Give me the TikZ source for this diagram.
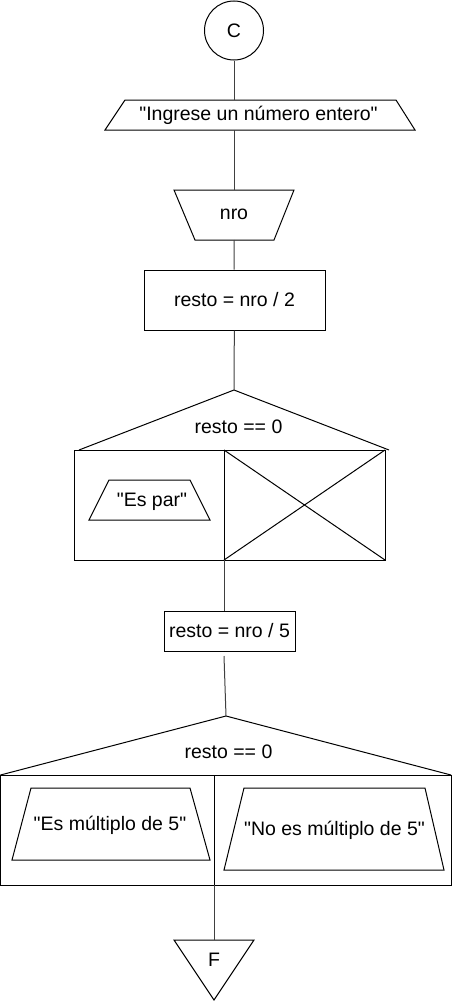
\documentclass[tikz,border=0pt]{standalone}
\usepackage{fontspec}
\newfontfamily\arial{Liberation Sans}
\begin{document}
\begin{tikzpicture}
  [x=1pt, y=-1pt, line width=1pt,
   txt/.style = {font=\arial\fontsize{19.5}{23}\selectfont, inner sep=0pt},
   caja/.style = {draw, txt},
   link/.style = {draw=black!75}]
  \useasboundingbox (0,0) rectangle (452,1001);
  % Inicio
  \node[caja, circle, minimum size=59pt] (C) at (234,30.5) {C};
  % Mensaje de entrada
  \draw (125,100) -- (396,100) -- (415,130) -- (105,130) -- cycle;
  \node[txt] (msg) at (258.5,115) {"Ingrese un número entero"};
  \coordinate (msgT) at (234,100);
  \coordinate (msgB) at (234,130);
  % Lectura
  \draw (174,190) -- (294,190) -- (274,240) -- (195,240) -- cycle;
  \node[txt] (nro) at (234,214) {nro};
  \coordinate (nroT) at (234,190);
  \coordinate (nroB) at (234,240);
  % Primer resto
  \node[caja, minimum width=181pt, minimum height=60pt] (r2) at (234.5,300) {resto = nro / 2};
  % Primera condicion
  \coordinate (ap1) at (234,390);
  \draw (79,450) -- (ap1) -- (389,450);
  \node[txt] (c1) at (238.5,427) {resto == 0};
  \draw (74,450) rectangle (385,560);
  \draw (224,450) -- (224,560);
  \draw (224,450) -- (385,560);
  \draw (224,560) -- (385,450);
  \draw (109,480) -- (190,480) -- (210,520) -- (89,520) -- cycle;
  \node[txt] (par) at (152,502) {"Es par"};
  \coordinate (s1) at (224,560);
  % Segundo resto
  \node[caja, minimum width=131pt, minimum height=40pt] (r5) at (229.5,631) {resto = nro / 5};
  \coordinate (r5T) at (224,611);
  \coordinate (r5B) at (224,656);
  % Segunda condicion
  \coordinate (ap2) at (226,716);
  \draw (0.5,775) -- (ap2) -- (451,775);
  \node[txt] (c2) at (228.5,752) {resto == 0};
  \draw (0.5,775) rectangle (451,885);
  \draw (214,775) -- (214,885);
  \draw (31,788) -- (190,788) -- (210,860) -- (12,860) -- cycle;
  \node[txt] (si) at (110,825) {"Es múltiplo de 5"};
  \draw (244,788) -- (425,788) -- (444,870) -- (224,870) -- cycle;
  \node[txt] (no) at (334.5,830) {"No es múltiplo de 5"};
  \coordinate (s2) at (214,885);
  % Fin
  \coordinate (fT) at (214,940);
  \draw (174,940) -- (254,940) -- (214,1000) -- cycle;
  \node[txt] (F) at (214,960) {F};
  % Conectores
  \draw[link] (C) -- (msgT);
  \draw[link] (msgB) -- (nroT);
  \draw[link] (nroB) -- (r2);
  \draw[link] (r2) -- (ap1);
  \draw[link] (s1) -- (r5T);
  \draw[link] (r5B) -- (ap2);
  \draw[link] (s2) -- (fT);
\end{tikzpicture}
\end{document}
